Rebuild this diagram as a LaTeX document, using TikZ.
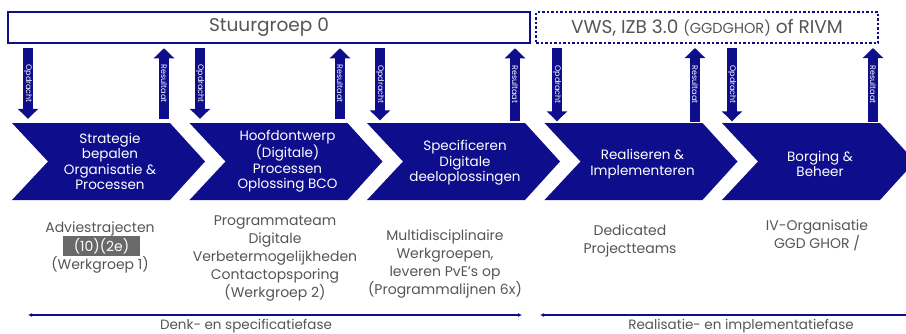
\documentclass[tikz,border=0pt]{standalone}
\usepackage{fontspec}
\setmainfont{Poppins}
\usetikzlibrary{arrows.meta}

\begin{document}
\begin{tikzpicture}[x=1pt,y=-1pt]
  % Colors
  \definecolor{navy}{RGB}{14,14,140}
  \definecolor{textgray}{RGB}{85,85,85}
  \definecolor{redact}{RGB}{105,105,105}

  % Styles
  \tikzstyle{top box}=[draw=navy,line width=2.5pt,minimum height=31pt,text=textgray,font=\fontsize{18.5}{18.5}\selectfont]
  \tikzstyle{chevron}=[fill=navy]
  \tikzstyle{chevron text}=[text=white,align=center,minimum width=158pt,minimum height=77pt,inner sep=0pt,font=\fontsize{13.5}{15.5}\selectfont]
  \tikzstyle{task arrow}=[navy,line width=10pt,-{Triangle[width=20pt,length=10pt]},shorten <=3.5pt,shorten >=4pt]
  \tikzstyle{arrow label}=[midway,rotate=-90,text=white,inner sep=0pt,font=\fontsize{8}{8}\selectfont]
  \tikzstyle{information text}=[text=textgray,align=center,anchor=north,font=\fontsize{14}{18}\selectfont]
  \tikzstyle{phase}=[navy,line width=1.2pt]
  \tikzstyle{phase text}=[text=textgray,font=\fontsize{13.5}{13.5}\selectfont]

  \useasboundingbox (0,0) rectangle (906,333);

  % The graphic
  \node[top box,minimum width=522pt] (stuur) at (269,27.5) {Stuurgroep 0};
  \node[top box,dotted,line width=2pt,minimum width=342pt] (vws) at (707,27.5)
    {VWS, IZB 3.0 {\fontsize{14.5}{14.5}\selectfont(GGDGHOR)} of RIVM};

  \foreach \x in {12,189.5,367,544.5,722}
    \fill[chevron] (\x,123) -- ++(158,0) -- ++(35,38.5) -- ++(-35,38.5) -- ++(-158,0) -- ++(36,-38.5) -- cycle;

  \node[chevron text] (strategie) at (110,161.5) {Strategie\\bepalen\\Organisatie \&\\Processen};
  \node[chevron text] (hoofdontwerp) at (287.5,161.5) {Hoofdontwerp\\(Digitale)\\Processen\\Oplossing BCO};
  \node[chevron text] (specificeren) at (465,163) {Specificeren\\Digitale\\deeloplossingen};
  \node[chevron text] (realiseren) at (642.5,164) {Realiseren \&\\Implementeren};
  \node[chevron text] (borging) at (820,164) {Borging \&\\Beheer};

  % Opdracht and Resultaat
  \coordinate (o1) at (28,0);  \coordinate (r1) at (164,0);
  \coordinate (o2) at (200,0); \coordinate (r2) at (340,0);
  \coordinate (o3) at (380,0); \coordinate (r3) at (515,0);
  \coordinate (o4) at (557,0); \coordinate (r4) at (695,0);
  \coordinate (o5) at (732,0); \coordinate (r5) at (873,0);

  \draw[task arrow] (o1 |- stuur.south) -- (o1 |- strategie.north) node[arrow label] {Opdracht};
  \draw[task arrow] (r1 |- strategie.north) -- (r1 |- stuur.south) node[arrow label] {Resultaat};
  \draw[task arrow] (o2 |- stuur.south) -- (o2 |- hoofdontwerp.north) node[arrow label] {Opdracht};
  \draw[task arrow] (r2 |- hoofdontwerp.north) -- (r2 |- stuur.south) node[arrow label] {Resultaat};
  \draw[task arrow] (o3 |- stuur.south) -- (o3 |- specificeren.north) node[arrow label] {Opdracht};
  \draw[task arrow] (r3 |- specificeren.north) -- (r3 |- stuur.south) node[arrow label] {Resultaat};
  \draw[task arrow] (o4 |- vws.south) -- (o4 |- realiseren.north) node[arrow label] {Opdracht};
  \draw[task arrow] (r4 |- realiseren.north) -- (r4 |- vws.south) node[arrow label] {Resultaat};
  \draw[task arrow] (o5 |- vws.south) -- (o5 |- borging.north) node[arrow label] {Opdracht};
  \draw[task arrow] (r5 |- borging.north) -- (r5 |- vws.south) node[arrow label] {Resultaat};

  % Who does it
  \node[information text] (wg1) at (100,218) {Adviestrajecten\\[1pt]\\(Werkgroep 1)};
  \node[fill=redact,text=white,minimum width=77pt,minimum height=20pt,inner sep=0pt,font=\fontsize{14}{14}\selectfont] (redact) at (101.5,246) {(10)(2e)};
  \node[information text] (wg2) at (275,212) {Programmateam\\Digitale\\Verbetermogelijkheden\\Contactopsporing\\(Werkgroep 2)};
  \node[information text] (wg3) at (445,226) {Multidisciplinaire\\Werkgroepen,\\leveren PvE's op\\(Programmalijnen 6x)};
  \node[information text] (wg4) at (630,221) {Dedicated\\Projectteams};
  \node[information text] (wg5) at (817,216) {IV-Organisatie\\GGD GHOR /};

  % Phases
  \coordinate (denk start) at (28,315);
  \coordinate (denk end) at (522,315);
  \coordinate (real start) at (540,315);
  \coordinate (real end) at (912,315);
  \draw[phase,{Latex[length=4pt,width=4pt]}-{Latex[length=4pt,width=4pt]}] (denk start) -- (denk end);
  \draw[phase,{Latex[length=4pt,width=4pt]}-] (real start) -- (real end);
  \node[phase text] (denk) at (246,326) {Denk- en specificatiefase};
  \node[phase text] (real) at (741,326) {Realisatie- en implementatiefase};
\end{tikzpicture}
\end{document}
